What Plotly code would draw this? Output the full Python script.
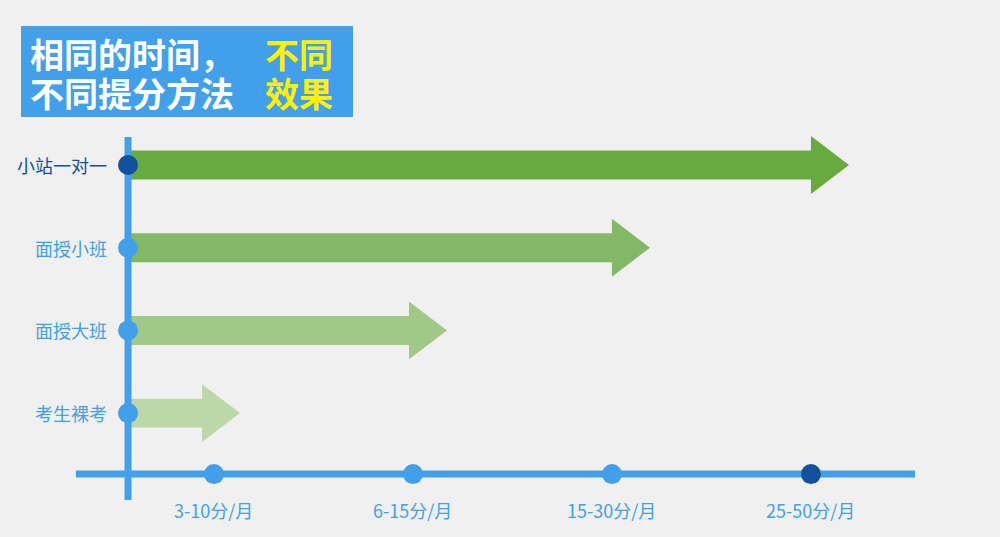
import plotly.graph_objects as go

# rows (top to bottom) and how far each arrow reaches, in "level" units of the x scale
methods = ["小站一对一", "面授小班", "面授大班", "考生裸考"]
rows = [4, 3, 2, 1]
reach = [4.0, 3.0, 1.98, 0.94]
arrow_colors = ["#67ab3e", "#83b966", "#a0c987", "#bcd7a8"]
label_colors = ["#12519e", "#42a0ea", "#42a0ea", "#42a0ea"]

levels = [1, 2, 3, 4]
level_labels = ["3-10分/月", "6-15分/月", "15-30分/月", "25-50分/月"]
dot_colors = ["#42a0ea", "#42a0ea", "#42a0ea", "#12519e"]

title_lines = ["相同的时间，", "不同提分方法"]
accent_lines = ["不同", "效果"]

BLUE = "#42a0ea"
BG = "#f0f0f0"

# layout in data units
x0 = 0.568          # vertical axis position
x_axis_y = 0.263    # horizontal axis position
body_h = 0.175      # half height of arrow body
head_h = 0.35       # half height of arrow head
head_len = 0.191

fig = go.Figure()

# arrows as path shapes (below the dots)
for r, e, c in zip(rows, reach, arrow_colors):
    pts = [(x0, r + body_h), (e, r + body_h), (e, r + head_h), (e + head_len, r),
           (e, r - head_h), (e, r - body_h), (x0, r - body_h)]
    path = "M " + " L ".join(f"{px},{py}" for px, py in pts) + " Z"
    fig.add_shape(type="path", path=path, fillcolor=c, line=dict(width=0),
                  layer="below")

# axes lines
fig.add_shape(type="line", x0=0.306, x1=4.523, y0=x_axis_y, y1=x_axis_y,
              line=dict(color=BLUE, width=7), layer="below")
fig.add_shape(type="line", x0=x0, x1=x0, y0=-0.051, y1=4.338,
              line=dict(color=BLUE, width=7), layer="below")

# dots on the vertical axis
fig.add_trace(go.Scatter(x=[x0] * len(rows), y=rows, mode="markers",
                         marker=dict(size=20, color=label_colors, line=dict(width=0)),
                         hoverinfo="skip", showlegend=False))
# dots on the horizontal axis
fig.add_trace(go.Scatter(x=levels, y=[x_axis_y] * len(levels), mode="markers",
                         marker=dict(size=20, color=dot_colors, line=dict(width=0)),
                         hoverinfo="skip", showlegend=False))

# row labels
for r, m, c in zip(rows, methods, label_colors):
    fig.add_annotation(x=x0, y=r, text=m, showarrow=False, xanchor="right",
                       yanchor="middle", xshift=-19, font=dict(size=18, color=c))

# level labels
for lv, t in zip(levels, level_labels):
    fig.add_annotation(x=lv, y=x_axis_y, text=t, showarrow=False, yanchor="middle",
                       yshift=-36, font=dict(size=18, color=BLUE))

# title box
fig.add_shape(type="rect", xref="paper", yref="paper",
              x0=21 / 1000, x1=353 / 1000, y0=1 - 117 / 537, y1=1 - 26 / 537,
              fillcolor=BLUE, line=dict(width=0))
for lines, xp, col in [(title_lines, 28, "white"), (accent_lines, 263, "#fff200")]:
    for s, yp in zip(lines, [53, 92]):
        fig.add_annotation(xref="paper", yref="paper", x=xp / 1000, y=1 - yp / 537,
                           text="<b>" + s + "</b>", showarrow=False,
                           xanchor="left", yanchor="middle",
                           font=dict(size=34, color=col, family="Noto Sans CJK SC"))

fig.update_layout(
    width=1000, height=537,
    margin=dict(l=0, r=0, t=0, b=0),
    paper_bgcolor=BG, plot_bgcolor=BG,
    font=dict(family="Noto Sans CJK SC"),
    xaxis=dict(range=[-0.0754, 4.950], visible=False, fixedrange=True),
    yaxis=dict(range=[-0.498, 5.995], visible=False, fixedrange=True),
)

fig.write_html("out.html", config={"displayModeBar": False},
               post_script="document.body.style.margin='0';document.body.style.overflow='hidden';")
